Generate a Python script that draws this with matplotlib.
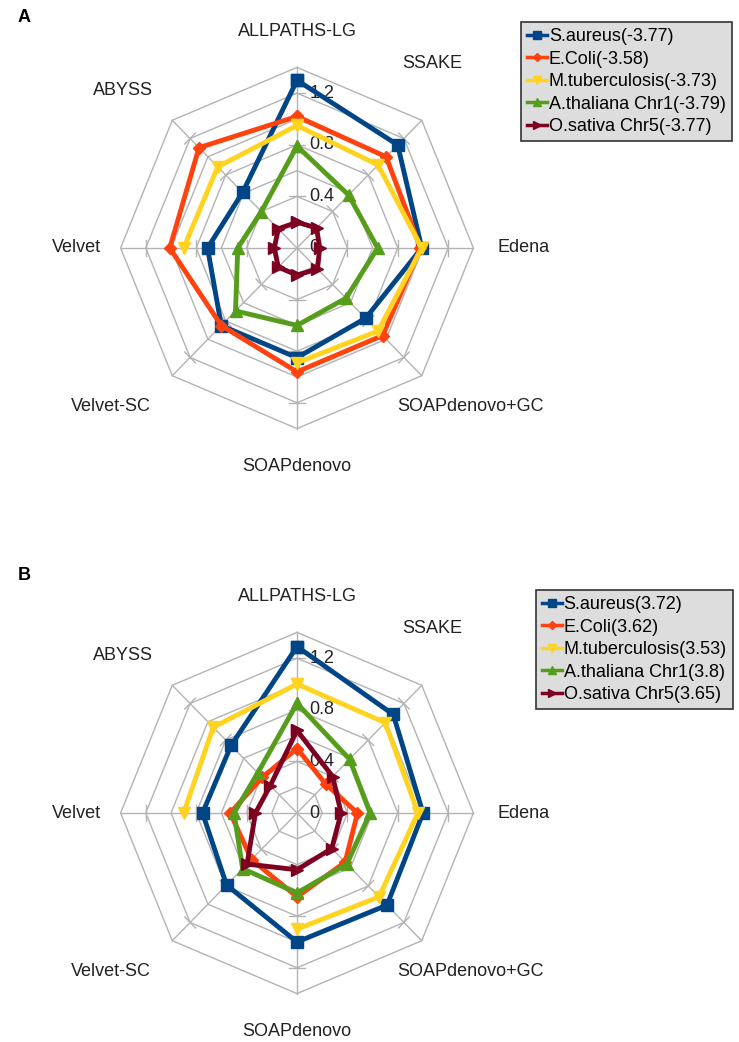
import matplotlib
matplotlib.use("Agg")
import matplotlib.pyplot as plt
import numpy as np

plt.rcParams['font.family'] = ['Liberation Sans', 'DejaVu Sans']

# categories, clockwise from the top
categories = ["ALLPATHS-LG", "SSAKE", "Edena", "SOAPdenovo+GC",
              "SOAPdenovo", "Velvet-SC", "Velvet", "ABYSS"]
nan = np.nan

# panel A
saureus_a = [1.30, 1.13, 0.99, 0.77, 0.85, 0.85, 0.71, 0.61]
ecoli_a = [1.02, 1.00, 0.98, 0.96, 0.96, 0.85, 1.01, 1.10]
mtb_a = [0.95, 0.91, 0.99, 0.91, 0.89, nan, 0.90, 0.89]
athal_a = [0.79, 0.58, 0.64, 0.55, 0.60, 0.69, 0.47, 0.40]
osat_a = [0.20, 0.22, 0.18, 0.23, 0.21, 0.21, 0.18, 0.21]
labels_a = ["S.aureus(-3.77)", "E.Coli(-3.58)", "M.tuberculosis(-3.73)",
            "A.thaliana Chr1(-3.79)", "O.sativa Chr5(-3.77)"]

# panel B
saureus_b = [1.29, 1.08, 1.00, 1.01, 1.00, 0.79, 0.75, 0.74]
ecoli_b = [0.50, 0.32, 0.48, 0.54, 0.65, 0.51, 0.53, 0.39]
mtb_b = [1.00, 0.99, 0.96, 0.92, 0.90, nan, 0.90, 0.94]
athal_b = [0.85, 0.59, 0.58, 0.56, 0.62, 0.61, 0.50, 0.44]
osat_b = [0.64, 0.40, 0.35, 0.39, 0.44, 0.56, 0.33, 0.30]
labels_b = ["S.aureus(3.72)", "E.Coli(3.62)", "M.tuberculosis(3.53)",
            "A.thaliana Chr1(3.8)", "O.sativa Chr5(3.65)"]

ring_values = [0.2, 0.4, 0.6, 0.8, 1.0, 1.2, 1.4]
tick_values = [0, 0.4, 0.8, 1.2]

colors = ["#004586", "#ff420e", "#ffd320", "#579d1c", "#7e0021"]
markers = ["s", "D", "v", "^", ">"]
msizes = [8.5, 6, 8.5, 8.5, 8]

# where the category names sit (data units)
label_pos = {"ALLPATHS-LG": (0, 1.68), "SSAKE": (1.07, 1.43),
             "Edena": (1.80, 0), "SOAPdenovo+GC": (1.38, -1.23),
             "SOAPdenovo": (0, -1.69), "Velvet-SC": (-1.48, -1.23),
             "Velvet": (-1.75, 0), "ABYSS": (-1.38, 1.22)}

angles = np.deg2rad(90 - 45 * np.arange(len(categories)))
grid_col = "#b3b3b3"


def draw_radar(ax, series, labels, legend_anchor):
    # octagon rings and spokes
    ca = np.append(np.cos(angles), np.cos(angles[0]))
    sa = np.append(np.sin(angles), np.sin(angles[0]))
    for r in ring_values:
        ax.plot(r * ca, r * sa, color=grid_col, lw=1, zorder=1)
    rmax = ring_values[-1]
    for a in angles:
        ax.plot([0, rmax * np.cos(a)], [0, rmax * np.sin(a)],
                color=grid_col, lw=1, zorder=1)
        for t in tick_values[1:]:
            px, py = -np.sin(a) * 0.06, np.cos(a) * 0.06
            cx, cy = t * np.cos(a), t * np.sin(a)
            ax.plot([cx - px, cx + px], [cy - py, cy + py],
                    color=grid_col, lw=1, zorder=1)
    for t in tick_values:
        ax.text(0.1, t, "%g" % t, fontsize=13, color="#222222",
                ha="left", va="center", zorder=2)
    for c in categories:
        x, y = label_pos[c]
        ax.text(x, y, c, fontsize=13, color="#222222",
                ha="center", va="center")

    handles = []
    for vals, col, mk, ms, lab in zip(series, colors, markers, msizes, labels):
        v = np.append(vals, vals[0])
        h, = ax.plot(v * ca, v * sa, color=col, lw=3.5, marker=mk,
                     markersize=ms, label=lab, zorder=3)
        handles.append(h)

    leg = ax.legend(handles=handles, loc="upper right",
                    bbox_to_anchor=legend_anchor,
                    bbox_transform=ax.figure.transFigure,
                    fontsize=13, frameon=True, fancybox=False,
                    handlelength=1.1, handletextpad=0.1,
                    labelspacing=0.3, borderpad=0.35, borderaxespad=0,
                    markerscale=0.75)
    fr = leg.get_frame()
    fr.set_facecolor("#dddddd")
    fr.set_edgecolor("#333333")
    fr.set_linewidth(1.2)
    fr.set_alpha(1)
    for line in leg.get_lines():
        line.set_linewidth(2.5)

    ax.set_xlim(-297 / 126, (739 - 297) / 126)
    ax.axis("off")


fig = plt.figure(figsize=(7.39, 10.42), dpi=100)

ax_a = fig.add_axes([0, 0.5, 1, 0.5])
draw_radar(ax_a, [saureus_a, ecoli_a, mtb_a, athal_a, osat_a], labels_a,
           (732 / 739, 1 - 22 / 1042))
ax_a.set_ylim(-(521 - 248) / 129, 248 / 129)

ax_b = fig.add_axes([0, 0, 1, 0.5])
draw_radar(ax_b, [saureus_b, ecoli_b, mtb_b, athal_b, osat_b], labels_b,
           (733 / 739, 1 - 590 / 1042))
ax_b.set_ylim(-(1042 - 813) / 129, (813 - 521) / 129)

fig.text(18 / 739, 1 - 17 / 1042, "A", fontsize=13, fontweight="bold",
         ha="left", va="center")
fig.text(18 / 739, 1 - 575 / 1042, "B", fontsize=13, fontweight="bold",
         ha="left", va="center")

fig.savefig("out.png", dpi=100)
